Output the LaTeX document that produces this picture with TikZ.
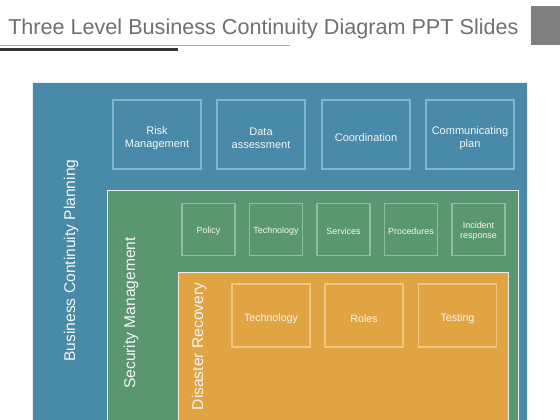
\documentclass[tikz,border=0pt]{standalone}
\usepackage{fontspec}
\setmainfont{Liberation Sans}

\definecolor{bcpblue}{RGB}{72,138,167}
\definecolor{smgreen}{RGB}{90,151,113}
\definecolor{drorange}{RGB}{225,164,66}
\definecolor{blueline}{RGB}{128,182,206}
\definecolor{greenline}{RGB}{138,191,157}
\definecolor{orangeline}{RGB}{239,198,128}
\definecolor{titlegray}{RGB}{112,112,112}
\definecolor{squaregray}{RGB}{128,128,128}

\begin{document}
\begin{tikzpicture}[x=0.75pt, y=-0.75pt, line join=miter,
    panel/.style={draw=white!85!gray, line width=0.75pt},
    item/.style={rectangle, line width=1.1pt, inner sep=0pt},
    itemtext/.style={text=white!96!black, align=center, inner sep=0pt},
    bigitem/.style={item, draw=blueline, minimum width=66pt, minimum height=51.75pt,
        label={[itemtext, font=\fontsize{8.25}{9.9}\selectfont, yshift=-2.6pt]center:#1}},
    smallitem/.style={item, draw=greenline, minimum width=39.75pt, minimum height=39pt,
        label={[itemtext, font=\fontsize{6.7}{8}\selectfont, yshift=-1.2pt]center:#1}},
    drbox/.style={item, draw=orangeline, minimum width=58.5pt, minimum height=47.25pt,
        label={[itemtext, font=\fontsize{8}{9.6}\selectfont, yshift=-2.2pt]center:#1}},
    levelname/.style={rotate=90, anchor=base, text=white!96!black,
        font=\fontsize{11.7}{14}\selectfont}]
    \useasboundingbox (0,0) rectangle (560,420);

    % Title and the two rules under it
    \node[anchor=base west, text=titlegray, inner sep=0pt,
        font=\fontsize{16.2}{19}\selectfont] (title) at (8,35)
        {Three Level Business Continuity Diagram PPT Slides};
    \draw[gray!70, line width=0.75pt] (0,46) -- (290,46);
    \draw[black!80, line width=1.9pt] (0,49.5) -- (178,49.5);
    \fill[squaregray] (531,6) rectangle (560,45);

    % Level 1: business continuity planning
    \draw[panel, fill=bcpblue] (32.5,83) rectangle (527.5,424);
    \node[levelname] (bcp) at (75,260.5) {Business Continuity Planning};
    \node[bigitem={Risk\\Management}] (risk) at (157,134.5) {};
    \node[bigitem={Data\\assessment}] (data) at (261,134.5) {};
    \node[bigitem={Coordination}] (coord) at (366,134.5) {};
    \node[bigitem={Communicating\\plan}] (comm) at (470,134.5) {};

    % Level 2: security management
    \draw[panel, fill=smgreen] (107,191) rectangle (518,424);
    \node[levelname] (sm) at (135,313) {Security Management};
    \node[smallitem={Policy}] (policy) at (208.5,229.5) {};
    \node[smallitem={Technology}] (smtech) at (276,229.5) {};
    \node[smallitem={Services}] (services) at (343.5,229.5) {};
    \node[smallitem={Procedures}] (proc) at (411,229.5) {};
    \node[smallitem={Incident\\response}] (incident) at (478.5,229.5) {};

    % Level 3: disaster recovery
    \draw[panel, fill=drorange] (178,272) rectangle (508,424);
    \node[levelname] (dr) at (203,346.5) {Disaster Recovery};
    \node[drbox={Technology}] (drtech) at (271,315.5) {};
    \node[drbox={Roles}] (roles) at (364,315.5) {};
    \node[drbox={Testing}] (testing) at (457.5,315.5) {};

\end{tikzpicture}
\end{document}
